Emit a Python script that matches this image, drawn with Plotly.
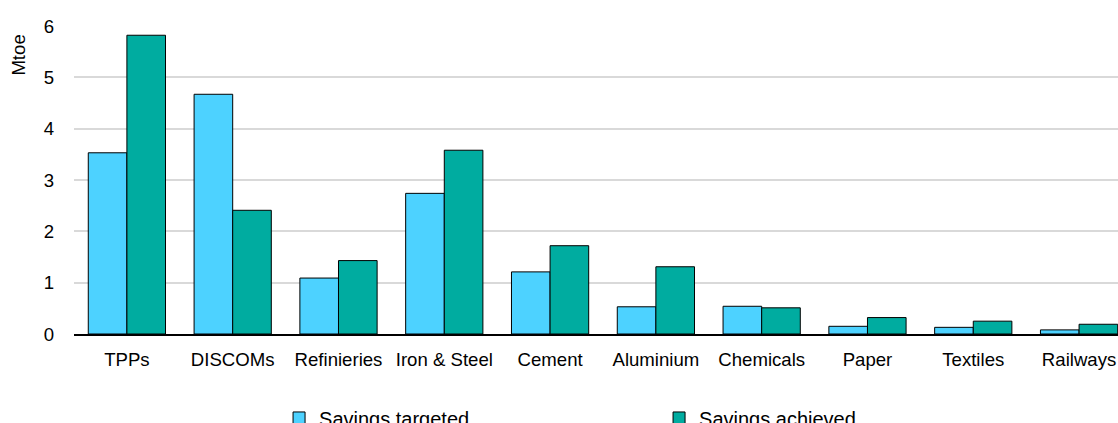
import plotly.graph_objects as go

# ── Data ──────────────────────────────────────────────────────────────────────
SECTORS = [
    "TPPs", "DISCOMs", "Refinieries", "Iron & Steel", "Cement",
    "Aluminium", "Chemicals", "Paper", "Textiles", "Railways",
]
TARGETED = [3.53, 4.67, 1.09, 2.74, 1.21, 0.53, 0.54, 0.15, 0.13, 0.08]
ACHIEVED = [5.82, 2.41, 1.43, 3.58, 1.72, 1.31, 0.51, 0.32, 0.25, 0.19]

C_TARGET = "#4dd2ff"
C_ACHIEVE = "#00aca0"
FONT = "Liberation Sans, Arial, sans-serif"

fig = go.Figure()
fig.add_trace(go.Bar(
    name="Savings targeted", x=SECTORS, y=TARGETED,
    marker=dict(color=C_TARGET, line=dict(color="#000000", width=1)),
))
fig.add_trace(go.Bar(
    name="Savings achieved", x=SECTORS, y=ACHIEVED,
    marker=dict(color=C_ACHIEVE, line=dict(color="#000000", width=1)),
))

fig.update_layout(
    width=1118, height=423,
    barmode="group",
    bargap=0.27, bargroupgap=0,
    paper_bgcolor="white", plot_bgcolor="white",
    font=dict(family=FONT, size=18.6, color="#000000"),
    margin=dict(t=26, b=89, l=74, r=0),
    xaxis=dict(
        # the source chart is cropped on the right, so the last slot is cut short
        range=[-0.5, 9.368],
        showgrid=False, showline=True, linecolor="#000000", linewidth=1.5,
        ticks="", ticklabelstandoff=8, tickfont=dict(size=18.6),
        automargin=False,
    ),
    yaxis=dict(
        range=[0, 6], dtick=1, showgrid=True, gridcolor="#d9d9d9", gridwidth=1.5,
        zeroline=False, showline=False, ticks="", ticklabelstandoff=19,
        tickfont=dict(size=18.6), automargin=False,
    ),
    showlegend=True,
    legend=dict(
        orientation="h",
        xref="container", x=0.2496, xanchor="left",
        yref="container", y=0.058, yanchor="top",
        entrywidth=335, entrywidthmode="pixels",
        font=dict(size=20), itemwidth=30,
        bgcolor="rgba(0,0,0,0)",
    ),
    annotations=[dict(
        text="Mtoe", textangle=-90, showarrow=False,
        xref="paper", yref="paper", x=-0.053, y=0.906,
        xanchor="center", yanchor="middle",
        font=dict(size=18.6),
    )],
)

# page body has a default 8px margin; drop it so the figure fills the window
fig.write_html(
    "out.html",
    config={"displayModeBar": False},
    post_script="document.body.style.margin='0';",
)
